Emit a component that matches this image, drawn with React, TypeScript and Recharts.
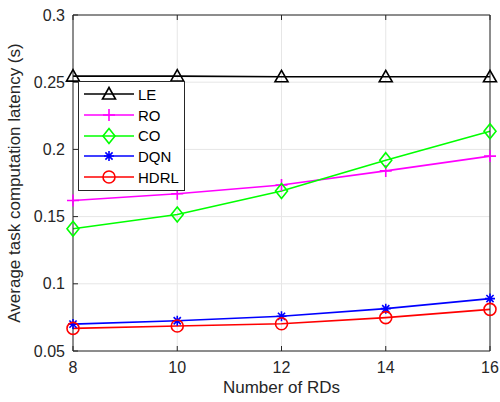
import { CartesianGrid, Line, LineChart, XAxis, YAxis } from 'recharts'

const rds = [8, 10, 12, 14, 16]
const le = [0.2545, 0.2545, 0.254, 0.254, 0.254]
const ro = [0.162, 0.167, 0.1735, 0.184, 0.195]
const co = [0.141, 0.1515, 0.169, 0.192, 0.2135]
const dqn = [0.07, 0.0725, 0.0758, 0.0815, 0.089]
const hdrl = [0.0668, 0.0686, 0.0703, 0.0748, 0.081]

const xTicks = [8, 10, 12, 14, 16]
const yTicks = [0.05, 0.1, 0.15, 0.2, 0.25, 0.3]

const data = rds.map((n, i) => ({
	n,
	LE: le[i],
	RO: ro[i],
	CO: co[i],
	DQN: dqn[i],
	HDRL: hdrl[i],
}))

type MarkerKind = 'tri' | 'plus' | 'diamond' | 'star' | 'circle'

const series: { key: string; color: string; marker: MarkerKind }[] = [
	{ key: 'LE', color: '#000000', marker: 'tri' },
	{ key: 'RO', color: '#ff00ff', marker: 'plus' },
	{ key: 'CO', color: '#00ff00', marker: 'diamond' },
	{ key: 'DQN', color: '#0000ff', marker: 'star' },
	{ key: 'HDRL', color: '#ff0000', marker: 'circle' },
]

const Marker = ({ kind, cx, cy, color }: { kind: MarkerKind; cx: number; cy: number; color: string }) => {
	const sw = 1.6
	if (kind === 'tri')
		return (
			<polygon
				points={`${cx},${cy - 6.5} ${cx - 6.5},${cy + 5} ${cx + 6.5},${cy + 5}`}
				fill="none"
				stroke={color}
				strokeWidth={sw}
			/>
		)
	if (kind === 'plus')
		return (
			<path d={`M${cx - 6},${cy}H${cx + 6}M${cx},${cy - 6}V${cy + 6}`} stroke={color} strokeWidth={sw} />
		)
	if (kind === 'diamond')
		return (
			<polygon
				points={`${cx},${cy - 7.5} ${cx + 6},${cy} ${cx},${cy + 7.5} ${cx - 6},${cy}`}
				fill="none"
				stroke={color}
				strokeWidth={sw}
			/>
		)
	if (kind === 'star')
		return (
			<path
				d={`M${cx - 5},${cy}H${cx + 5}M${cx},${cy - 5}V${cy + 5}M${cx - 3.6},${cy - 3.6}L${cx + 3.6},${cy + 3.6}M${cx - 3.6},${cy + 3.6}L${cx + 3.6},${cy - 3.6}`}
				stroke={color}
				strokeWidth={sw}
			/>
		)
	return <circle cx={cx} cy={cy} r={6} fill="none" stroke={color} strokeWidth={sw} />
}

// drawn outside recharts so it doesn't eat plot space
const LegendBox = () => (
	<div
		style={{
			position: 'absolute',
			left: 78,
			top: 81,
			border: '1px solid #262626',
			background: '#fff',
			width: 105,
			padding: '2px 0 3px 0',
			fontFamily: '"Liberation Sans", Arial, sans-serif',
			fontSize: 15,
		}}
	>
		{series.map((s) => (
			<div key={s.key} style={{ display: 'flex', alignItems: 'center', height: 20.7 }}>
				<svg width={59} height={20} style={{ flex: 'none' }}>
					<line x1={5} x2={55} y1={10} y2={10} stroke={s.color} strokeWidth={1.6} />
					<Marker kind={s.marker} cx={30} cy={10} color={s.color} />
				</svg>
				<span style={{ color: '#000' }}>{s.key}</span>
			</div>
		))}
	</div>
)

const YLabel = (props: any) => {
	const vb = props.viewBox
	const x = vb.x + 14
	const y = vb.y + vb.height / 2
	return (
		<text
			x={x}
			y={y}
			transform={`rotate(-90, ${x}, ${y})`}
			textAnchor="middle"
			dominantBaseline="central"
			fontSize={17}
			fill="#262626"
		>
			Average task computation latency (s)
		</text>
	)
}

const tickStyle = { fontSize: 16, fill: '#262626' }
const axisColor = '#262626'

export default function App() {
	return (
		<div style={{ position: 'absolute', left: 0, top: 0, width: 500, height: 402, background: '#fff' }}>
			<LineChart
				width={500}
				height={402}
				data={data}
				margin={{ top: 0, right: 0, left: 0, bottom: 0 }}
				style={{ fontFamily: '"Liberation Sans", Arial, sans-serif' }}
			>
				<CartesianGrid stroke="#e6e6e6" strokeWidth={1} />
				<XAxis
					dataKey="n"
					type="number"
					domain={[8, 16]}
					ticks={xTicks}
					height={51}
					stroke={axisColor}
					tick={tickStyle}
					tickSize={-5}
					tickMargin={16}
					label={{ value: 'Number of RDs', position: 'insideBottom', offset: 9, fontSize: 17, fill: '#262626' }}
				/>
				<XAxis
					xAxisId="top"
					orientation="top"
					dataKey="n"
					type="number"
					domain={[8, 16]}
					ticks={xTicks}
					height={15}
					stroke={axisColor}
					tickSize={-5}
					tickFormatter={() => ''}
				/>
				<YAxis
					type="number"
					domain={[0.05, 0.3]}
					ticks={yTicks}
					width={73}
					stroke={axisColor}
					tick={tickStyle}
					tickSize={-5}
					tickMargin={13}
					label={YLabel}
				/>
				<YAxis
					yAxisId="right"
					orientation="right"
					type="number"
					domain={[0.05, 0.3]}
					ticks={yTicks}
					width={10}
					stroke={axisColor}
					tickSize={-5}
					tickFormatter={() => ''}
				/>
				{series.map((s) => (
					<Line
						key={s.key}
						dataKey={s.key}
						stroke={s.color}
						strokeWidth={1.6}
						isAnimationActive={false}
						dot={(p: any) => <Marker key={`${s.key}-${p.index}`} kind={s.marker} cx={p.cx} cy={p.cy} color={s.color} />}
						activeDot={false}
					/>
				))}
			</LineChart>
			<LegendBox />
		</div>
	)
}
